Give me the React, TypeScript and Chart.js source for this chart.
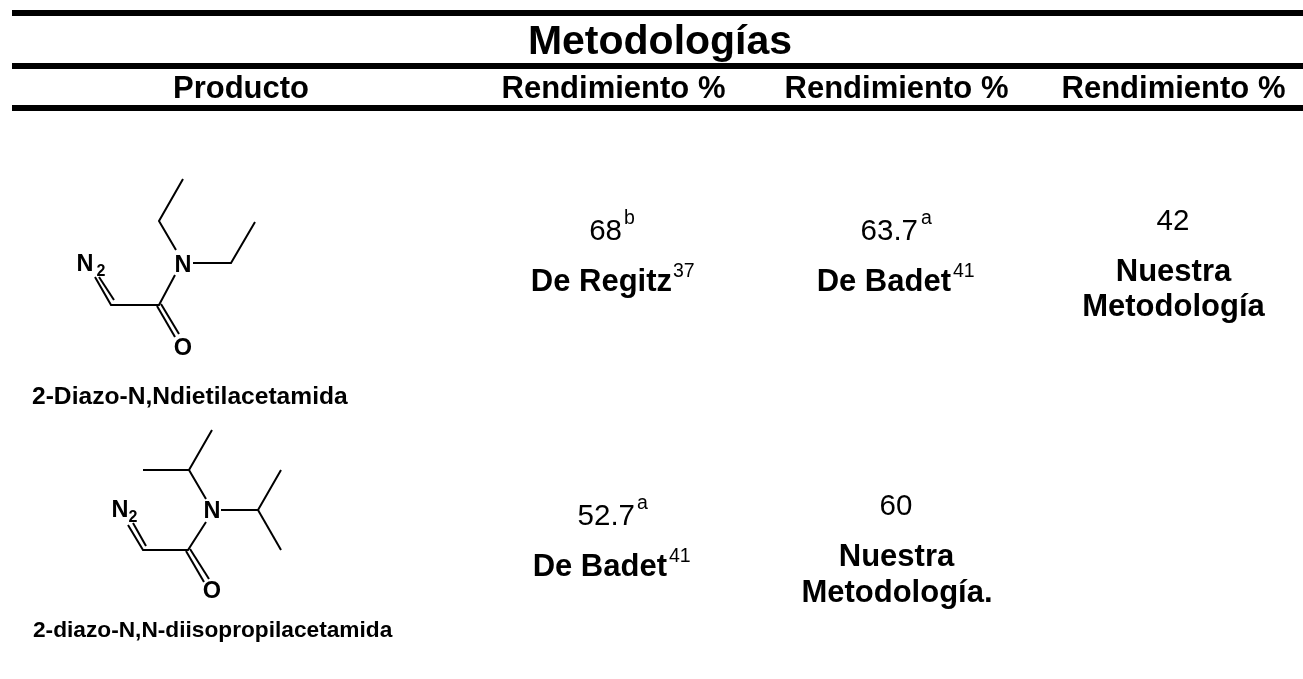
import React, { useEffect, useRef } from "react";
import { Chart, registerables } from "chart.js";

Chart.register(...registerables);

const WIDTH = 1303;
const HEIGHT = 679;

// Table rules
const ruleTop = [{ x: 12, y: 13 }, { x: 1303, y: 13 }];
const ruleMid = [{ x: 12, y: 66 }, { x: 1303, y: 66 }];
const ruleHead = [{ x: 12, y: 108 }, { x: 1303, y: 108 }];

// Molecule 1 bonds
const mol1Bonds = [
  [[183, 179], [159, 221], [176, 250]],
  [[193, 263], [231, 263], [255, 222]],
  [[175, 275], [159, 305], [111, 305], [95, 277]],
  [[114, 300], [99, 277]],
  [[157, 306], [175, 337]],
  [[161, 304], [179, 334]],
];
// Molecule 2 bonds
const mol2Bonds = [
  [[212, 430], [189, 470], [206, 499]],
  [[143, 470], [189, 470]],
  [[221, 510], [258, 510], [281, 470]],
  [[258, 510], [281, 550]],
  [[206, 522], [188, 550], [143, 550], [128, 525]],
  [[146, 546], [133, 523]],
  [[186, 551], [204, 582]],
  [[190, 549], [209, 579]],
];

type Label = [string, number, number, number, boolean, CanvasTextAlign];
// text, x, baseline y, font px, bold, align
const labels: Label[] = [
  ["Metodologías", 660, 54, 41, true, "center"],
  ["Producto", 241, 98, 31, true, "center"],
  ["Rendimiento %", 613.5, 98, 31, true, "center"],
  ["Rendimiento %", 896.5, 98, 31, true, "center"],
  ["Rendimiento %", 1173.5, 98, 31, true, "center"],
  ["N", 85, 271, 23.5, true, "center"],
  ["2", 101, 276, 16, true, "center"],
  ["N", 183, 272, 23.5, true, "center"],
  ["O", 183, 355, 23.5, true, "center"],
  ["2-Diazo-N,Ndietilacetamida", 32, 404, 24.6, true, "left"],
  ["N", 120, 517, 23.5, true, "center"],
  ["2", 133, 522, 16, true, "center"],
  ["N", 212, 518, 23.5, true, "center"],
  ["O", 212, 598, 23.5, true, "center"],
  ["2-diazo-N,N-diisopropilacetamida", 33, 637, 22.7, true, "left"],
  ["68", 622, 240, 29.5, false, "right"],
  ["b", 624, 224, 19.5, false, "left"],
  ["De Regitz", 672, 291, 31, true, "right"],
  ["37", 673, 277, 19.5, false, "left"],
  ["63.7", 918, 240, 29.5, false, "right"],
  ["a", 921, 224, 19.5, false, "left"],
  ["De Badet", 951, 291, 31, true, "right"],
  ["41", 953, 277, 19.5, false, "left"],
  ["42", 1173, 230, 29.5, false, "center"],
  ["Nuestra", 1173.5, 281, 31, true, "center"],
  ["Metodología", 1173.5, 316, 31, true, "center"],
  ["52.7", 635, 525, 29.5, false, "right"],
  ["a", 637, 509, 19.5, false, "left"],
  ["De Badet", 667, 576, 31, true, "right"],
  ["41", 669, 562, 19.5, false, "left"],
  ["60", 896, 515, 29.5, false, "center"],
  ["Nuestra", 896.5, 566, 31, true, "center"],
  ["Metodología.", 897, 602, 31, true, "center"],
];

const FONT = '"Liberation Sans", Arial, sans-serif';

const textPlugin = {
  id: "tableText",
  afterDatasetsDraw(chart: any) {
    const { ctx, scales } = chart;
    ctx.save();
    ctx.fillStyle = "#000";
    ctx.textBaseline = "alphabetic";
    for (const [t, x, y, size, bold, align] of labels) {
      ctx.font = `${bold ? "bold " : ""}${size}px ${FONT}`;
      ctx.textAlign = align;
      ctx.fillText(t, scales.x.getPixelForValue(x), scales.y.getPixelForValue(y));
    }
    ctx.restore();
  },
};

const toPts = (b: number[][]) => b.map(([x, y]) => ({ x, y }));
const lineDs = (data: any[], w: number) => ({
  data,
  borderColor: "#000",
  borderWidth: w,
  pointRadius: 0,
  showLine: true,
  tension: 0,
  fill: false,
  borderCapStyle: "butt" as const,
  borderJoinStyle: "miter" as const,
});

export default function App() {
  const ref = useRef<HTMLCanvasElement>(null);
  useEffect(() => {
    const chart = new Chart(ref.current!, {
      type: "scatter",
      data: {
        datasets: [
          lineDs(ruleTop, 6),
          lineDs(ruleMid, 6),
          lineDs(ruleHead, 6),
          ...mol1Bonds.map((b) => lineDs(toPts(b), 2)),
          ...mol2Bonds.map((b) => lineDs(toPts(b), 2)),
        ],
      },
      options: {
        responsive: false,
        animation: false,
        clip: false as any,
        layout: { padding: 0 },
        plugins: { legend: { display: false }, tooltip: { enabled: false }, title: { display: false } },
        scales: {
          x: { type: "linear", min: 0, max: WIDTH, display: false },
          y: { type: "linear", min: 0, max: HEIGHT, reverse: true, display: false },
        },
      },
      plugins: [textPlugin],
    });
    return () => chart.destroy();
  }, []);
  return (
    <canvas
      ref={ref}
      width={WIDTH}
      height={HEIGHT}
      style={{ position: "fixed", left: 0, top: 0, display: "block", background: "#fff" }}
    />
  );
}
